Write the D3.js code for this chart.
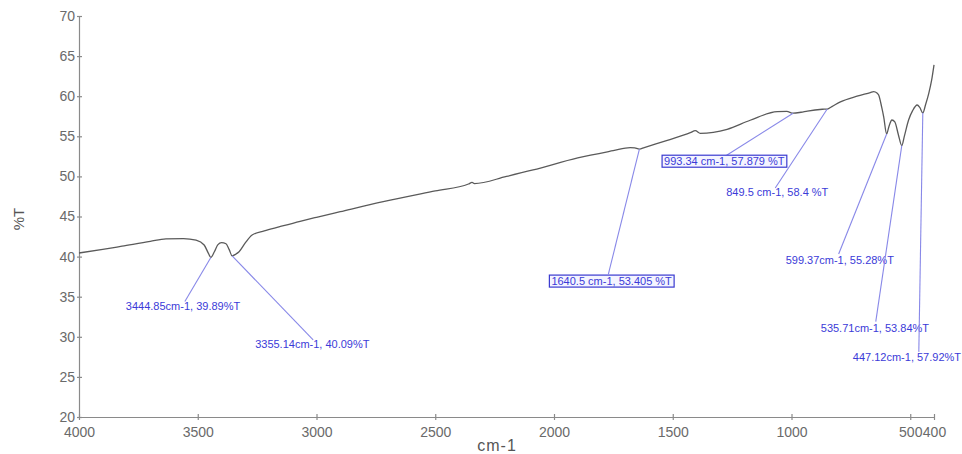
<!DOCTYPE html>
<html lang="en">
<head>
  <meta charset="utf-8">
  <title>IR spectrum</title>
  <script src="https://cdn.jsdelivr.net/npm/d3@7"></script>
  <style>
    body { margin: 0; background: #fff; overflow: hidden; }
    .axis path, .axis line { stroke: #8a8a8a; stroke-width: 1.2px; }
    .axis text { font: 14px 'Liberation Sans', Arial, sans-serif; fill: #6a6a6a; }
    .title { font-family: 'Liberation Sans', Arial, sans-serif; fill: #555; }
    .spectrum { fill: none; stroke: #5a5a5a; stroke-width: 1.3px; }
    .leader { stroke: #8888e8; stroke-width: 1.1px; }
    .peak-label { font: 11px 'Liberation Sans', Arial, sans-serif; fill: #3b3bd8; }
    .peak-box { fill: #f4f4ff; stroke: #3a3ad0; stroke-width: 1.2px; }
  </style>
</head>
<body>
<svg id="chart" width="962" height="454"></svg>
<script>
  // spectrum: wavenumber (cm-1) and %T
  const wavenumbers = [4000, 3900, 3819, 3700, 3634, 3560, 3507, 3473, 3455, 3444.85, 3430, 3415, 3400, 3381,
    3368, 3355.14, 3340, 3326, 3300, 3271, 3220, 3158, 3069, 3000, 2900, 2719, 2500, 2360, 2345, 2335,
    2200, 2088, 1900, 1751, 1679, 1660, 1640.5, 1620, 1523, 1426, 1405, 1384, 1271, 1174, 1060, 1020,
    993.34, 960, 933, 870, 849.5, 830, 794, 724, 668, 654, 640, 633, 620, 612, 599.37, 590, 577, 565,
    550, 535.71, 525, 507, 490, 471, 460, 447.12, 435, 422, 410, 400];
  const transmittance = [40.45, 40.9, 41.3, 41.9, 42.2, 42.25, 42.05, 41.45, 40.4, 39.89, 40.6, 41.5, 41.75, 41.6,
    40.9, 40.09, 40.3, 40.6, 41.7, 42.7, 43.2, 43.7, 44.4, 44.9, 45.6, 46.85, 48.2, 49.05, 49.25, 49.1,
    50.0, 50.8, 52.3, 53.2, 53.6, 53.55, 53.405, 53.6, 54.5, 55.45, 55.7, 55.37, 55.87, 57.0, 58.07, 58.1,
    57.879, 58.0, 58.15, 58.37, 58.4, 58.7, 59.3, 60.0, 60.45, 60.57, 60.4, 60.15, 58.6, 57.45, 55.28, 56.2, 57.03, 56.8,
    55.2, 53.84, 55.0, 57.03, 58.2, 58.9, 58.6, 57.92, 59.0, 60.36, 62.0, 63.9];

  // picked peaks
  const peakWn = [3444.85, 3355.14, 1640.5, 993.34, 849.5, 599.37, 535.71, 447.12];
  const peakT = [39.89, 40.09, 53.405, 57.879, 58.4, 55.28, 53.84, 57.92];
  const peakText = ["3444.85cm-1, 39.89%T", "3355.14cm-1, 40.09%T", "1640.5 cm-1, 53.405 %T",
    "993.34 cm-1, 57.879 %T", "849.5 cm-1, 58.4 %T", "599.37cm-1, 55.28%T",
    "535.71cm-1, 53.84%T", "447.12cm-1, 57.92%T"];

  const xTicks = [4000, 3500, 3000, 2500, 2000, 1500, 1000, 500, 400];
  const yTicks = [20, 25, 30, 35, 40, 45, 50, 55, 60, 65, 70];

  // label placement, pixel offsets from the peak: leader end [lx, ly], text start [tx, ty]
  const labelLayout = [
    { lx: -26, ly: 44, tx: -85, ty: 53, boxed: false },
    { lx: 81, ly: 84, tx: 23, ty: 92, boxed: false },
    { lx: -31, ly: 125, tx: -88, ty: 136, boxed: true },
    { lx: -68, ly: 43, tx: -129, ty: 52, boxed: true },
    { lx: -52, ly: 79, tx: -101, ty: 87, boxed: false },
    { lx: -48, ly: 120, tx: -101, ty: 130, boxed: false },
    { lx: -26, ly: 176, tx: -81, ty: 186, boxed: false },
    { lx: -4, ly: 239, tx: -70, ty: 248, boxed: false }
  ];

  const svg = d3.select("#chart");
  const x = d3.scaleLinear().domain([4000, 400]).range([79, 934]);
  const y = d3.scaleLinear().domain([20, 70]).range([417, 16]);

  // axes
  const xAxis = svg.append("g").attr("class", "axis").attr("transform", "translate(0,417)")
    .call(d3.axisBottom(x).tickValues(xTicks).tickSize(3).tickSizeOuter(0).tickFormat(d3.format("d")));
  xAxis.selectAll(".tick line").attr("y1", -3).attr("y2", 3);
  xAxis.selectAll(".tick text").attr("y", 20).attr("dy", 0);

  const yAxis = svg.append("g").attr("class", "axis").attr("transform", "translate(79,0)")
    .call(d3.axisLeft(y).tickValues(yTicks).tickSize(3).tickSizeOuter(0).tickPadding(1));
  yAxis.selectAll(".tick line").attr("x1", -2).attr("x2", 3);

  svg.append("text").attr("class", "title")
    .attr("transform", "translate(24,219) rotate(-90)")
    .attr("text-anchor", "middle").style("font-size", "15px")
    .text("%T");
  svg.append("text").attr("class", "title")
    .attr("x", 497).attr("y", 451).attr("text-anchor", "middle")
    .style("font-size", "16px").style("letter-spacing", "1px")
    .text("cm-1");

  // spectrum line
  const pts = wavenumbers.map((w, i) => [w, transmittance[i]]);
  svg.append("path").datum(pts).attr("class", "spectrum")
    .attr("d", d3.line().x(d => x(d[0])).y(d => y(d[1])).curve(d3.curveMonotoneX));

  // peak annotations
  const ann = svg.append("g");
  peakWn.forEach((w, i) => {
    const px = x(w), py = y(peakT[i]);
    const L = labelLayout[i];
    ann.append("line").attr("class", "leader")
      .attr("x1", px).attr("y1", py).attr("x2", px + L.lx).attr("y2", py + L.ly);
    const t = ann.append("text").attr("class", "peak-label")
      .attr("x", px + L.tx).attr("y", py + L.ty).text(peakText[i]);
    if (L.boxed) {
      const b = t.node().getBBox();
      ann.insert("rect", () => t.node()).attr("class", "peak-box")
        .attr("x", b.x - 2).attr("y", b.y).attr("width", b.width + 4).attr("height", b.height);
    }
  });
</script>
</body>
</html>
